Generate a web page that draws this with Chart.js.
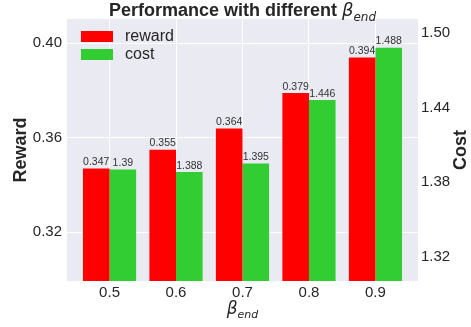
<!DOCTYPE html>
<html>
<head>
<meta charset="utf-8">
<script src="https://cdn.jsdelivr.net/npm/chart.js@4"></script>
<style>
  html, body { margin: 0; padding: 0; background: #ffffff; }
  #wrap { width: 471px; height: 327px; }
</style>
</head>
<body>
<div id="wrap"><canvas id="chart" width="471" height="327"></canvas></div>
<script>
const betaEnd = ["0.5", "0.6", "0.7", "0.8", "0.9"];
const reward = [0.347, 0.355, 0.364, 0.379, 0.394];
const cost = [1.39, 1.388, 1.395, 1.446, 1.488];
const rewardTicks = [0.32, 0.36, 0.40];
const costTicks = [1.32, 1.38, 1.44, 1.50];

const textColor = "#262626";
const sans = "'Liberation Sans', Arial, sans-serif";
const mathFont = "'DejaVu Sans', sans-serif";

// draws a bold label followed by an italic beta with "end" subscript
function drawBetaText(ctx, prefix, size, subSize, cx, baseline) {
    ctx.save();
    ctx.fillStyle = textColor;
    ctx.textBaseline = "alphabetic";
    ctx.textAlign = "left";
    ctx.font = "bold " + size + "px " + sans;
    const w1 = prefix ? ctx.measureText(prefix).width : 0;
    ctx.font = "italic " + size + "px " + mathFont;
    const w2 = ctx.measureText("\u03B2").width;
    ctx.font = "italic " + subSize + "px " + mathFont;
    const w3 = ctx.measureText("end").width;
    let x = cx - (w1 + w2 + w3) / 2;
    if (prefix) {
        ctx.font = "bold " + size + "px " + sans;
        ctx.fillText(prefix, x, baseline);
        x += w1;
    }
    ctx.font = "italic " + size + "px " + mathFont;
    ctx.fillText("\u03B2", x, baseline);
    x += w2;
    ctx.font = "italic " + subSize + "px " + mathFont;
    ctx.fillText("end", x, baseline + size * 0.25);
    ctx.restore();
}

const decorations = {
    id: "decorations",
    beforeDraw(chart) {
        const { ctx, chartArea: a } = chart;
        ctx.save();
        ctx.fillStyle = "#EAEAF2";
        ctx.fillRect(a.left, a.top, a.right - a.left, a.bottom - a.top);
        ctx.restore();
    },
    afterDatasetsDraw(chart) {
        const { ctx, chartArea: a } = chart;
        ctx.save();
        // value labels on top of each bar
        ctx.font = "10.5px " + sans;
        ctx.fillStyle = "#333333";
        ctx.textAlign = "center";
        ctx.textBaseline = "bottom";
        chart.data.datasets.forEach((ds, i) => {
            chart.getDatasetMeta(i).data.forEach((bar, j) => {
                ctx.fillText(String(ds.data[j].y), bar.x, bar.y - 1);
            });
        });

        // legend in the upper left corner of the plot
        chart.data.datasets.forEach((ds, i) => {
            const y = 31 + i * 18;
            ctx.fillStyle = ds.backgroundColor;
            ctx.fillRect(81, y, 32, 11);
            ctx.fillStyle = textColor;
            ctx.font = "16px " + sans;
            ctx.textAlign = "left";
            ctx.textBaseline = "middle";
            ctx.fillText(ds.label, 125, y + 6);
        });

        // axis titles
        ctx.font = "bold 18px " + sans;
        ctx.fillStyle = textColor;
        ctx.textAlign = "center";
        ctx.textBaseline = "middle";
        const midY = (a.top + a.bottom) / 2;
        ctx.save();
        ctx.translate(21, midY);
        ctx.rotate(-Math.PI / 2);
        ctx.fillText("Reward", 0, 0);
        ctx.restore();
        ctx.save();
        ctx.translate(461, midY);
        ctx.rotate(-Math.PI / 2);
        ctx.fillText("Cost", 0, 0);
        ctx.restore();
        ctx.restore();

        const midX = (a.left + a.right) / 2;
        drawBetaText(ctx, "Performance with different ", 18, 12, midX, 16);
        drawBetaText(ctx, "", 17, 11, midX, 314);
    }
};

new Chart(document.getElementById("chart").getContext("2d"), {
    type: "bar",
    data: {
        datasets: [
            {
                label: "reward",
                data: reward.map((v, i) => ({ x: i, y: v })),
                backgroundColor: "#FF0000",
                yAxisID: "y",
                categoryPercentage: 0.8,
                barPercentage: 1.0,
            },
            {
                label: "cost",
                data: cost.map((v, i) => ({ x: i, y: v })),
                backgroundColor: "#32CD32",
                yAxisID: "y1",
                categoryPercentage: 0.8,
                barPercentage: 1.0,
            },
        ],
    },
    options: {
        responsive: false,
        animation: false,
        layout: { padding: { top: 19, left: 0, right: 0, bottom: 0 } },
        plugins: {
            legend: { display: false },
            title: { display: false },
            tooltip: { enabled: false },
        },
        scales: {
            x: {
                type: "linear",
                offset: false,
                min: -0.64,
                max: 4.64,
                afterBuildTicks: (scale) => {
                    scale.ticks = betaEnd.map((c, i) => ({ value: i }));
                },
                afterFit: (scale) => { scale.height = 46; },
                ticks: {
                    callback: (v) => betaEnd[v],
                    color: textColor,
                    font: { family: sans, size: 15 },
                    padding: 3,
                    maxRotation: 0,
                },
                grid: { color: "#ffffff", lineWidth: 1, drawTicks: false, offset: false },
                border: { display: false },
            },
            y: {
                position: "left",
                min: 0.2994,
                max: 0.4103,
                afterBuildTicks: (scale) => {
                    scale.ticks = rewardTicks.map((v) => ({ value: v }));
                },
                afterFit: (scale) => { scale.width = 67; },
                ticks: {
                    callback: (v) => v.toFixed(2),
                    color: textColor,
                    font: { family: sans, size: 15 },
                    padding: 5,
                },
                grid: { color: "#ffffff", lineWidth: 1, drawTicks: false },
                border: { display: false },
            },
            y1: {
                position: "right",
                min: 1.3005,
                max: 1.511,
                afterBuildTicks: (scale) => {
                    scale.ticks = costTicks.map((v) => ({ value: v }));
                },
                afterFit: (scale) => { scale.width = 53; },
                ticks: {
                    callback: (v) => v.toFixed(2),
                    color: textColor,
                    font: { family: sans, size: 15 },
                    padding: 3,
                },
                grid: { display: false, drawTicks: false },
                border: { display: false },
            },
        },
    },
    plugins: [decorations],
});
</script>
</body>
</html>
